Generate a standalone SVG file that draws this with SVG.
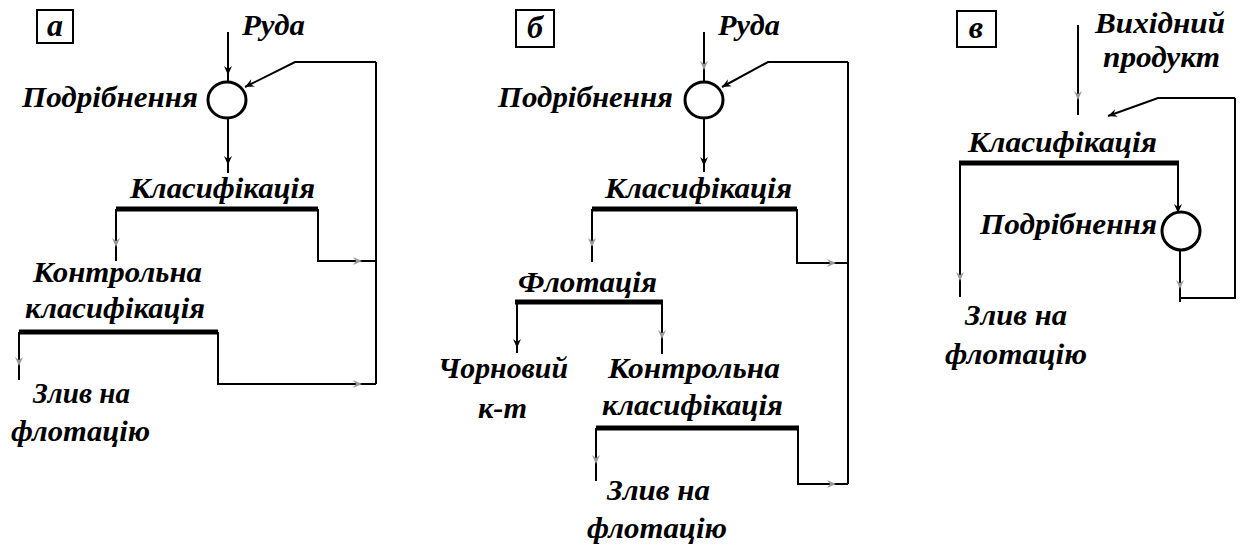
<svg xmlns="http://www.w3.org/2000/svg" width="1242" height="548" viewBox="0 0 1242 548">
  <style>
    .ln { fill: none; stroke: #000; stroke-width: 2; }
    .bar { fill: none; stroke: #000; stroke-width: 5; }
    .mill { fill: #fff; stroke: #000; stroke-width: 3; }
    .box { fill: #fff; stroke: #000; stroke-width: 2; }
    .ah { fill: #000; }
    .ahf { fill: #999; }
  </style>
  <defs>
    <!-- arrowhead pointing along +x, tip at origin -->
    <path id="ah" d="M0,0 L-9,-4 L-6,0 L-9,4 Z"/>
  </defs>
  <rect width="1242" height="548" fill="#fff"/>

  <!-- connectors of all three schemes -->
  <g id="connectors">
    <!-- scheme a -->
    <path class="ln" d="M228,32 V82"/>
    <path class="ln" d="M376,62 H295 L245,87"/>
    <path class="ln" d="M228,118 V173"/>
    <path class="ln" d="M376,62 V384"/>
    <path class="ln" d="M116,209 V261"/>
    <path class="ln" d="M318,209 V261 H376"/>
    <path class="ln" d="M19,332 V380"/>
    <path class="ln" d="M218,332 V384 H376"/>
    <use href="#ah" class="ah" transform="translate(228,75) rotate(90)"/>
    <use href="#ah" class="ah" transform="translate(245,87) rotate(153)"/>
    <use href="#ah" class="ah" transform="translate(228,165) rotate(90)"/>
    <use href="#ah" class="ahf" transform="translate(116,247) rotate(90)"/>
    <use href="#ah" class="ahf" transform="translate(362,261)"/>
    <use href="#ah" class="ahf" transform="translate(19,366) rotate(90)"/>
    <use href="#ah" class="ahf" transform="translate(362,384)"/>
    <!-- scheme б -->
    <path class="ln" d="M704,32 V82"/>
    <path class="ln" d="M848,62 H768 L722,87"/>
    <path class="ln" d="M704,118 V172"/>
    <path class="ln" d="M848,62 V484"/>
    <path class="ln" d="M592,209 V262"/>
    <path class="ln" d="M797,209 V263 H848"/>
    <path class="ln" d="M517,302 V353"/>
    <path class="ln" d="M662,302 V354"/>
    <path class="ln" d="M596,428 V481"/>
    <path class="ln" d="M798,428 V484 H848"/>
    <use href="#ah" class="ahf" transform="translate(704,70) rotate(90)"/>
    <use href="#ah" class="ah" transform="translate(722,87) rotate(151)"/>
    <use href="#ah" class="ah" transform="translate(704,166) rotate(90)"/>
    <use href="#ah" class="ahf" transform="translate(592,247) rotate(90)"/>
    <use href="#ah" class="ahf" transform="translate(836,263)"/>
    <use href="#ah" class="ah" transform="translate(517,348) rotate(90)"/>
    <use href="#ah" class="ahf" transform="translate(662,339) rotate(90)"/>
    <use href="#ah" class="ahf" transform="translate(596,464) rotate(90)"/>
    <use href="#ah" class="ahf" transform="translate(836,484)"/>
    <!-- scheme в -->
    <path class="ln" d="M1078,25 V115"/>
    <path class="ln" d="M1235,98 H1158 L1108,116"/>
    <path class="ln" d="M1235,98 V298 H1180"/>
    <path class="ln" d="M960,163 V297"/>
    <path class="ln" d="M1178,163 V212"/>
    <path class="ln" d="M1180,250 V302"/>
    <use href="#ah" class="ahf" transform="translate(1078,100) rotate(90)"/>
    <use href="#ah" class="ah" transform="translate(1108,116) rotate(160)"/>
    <use href="#ah" class="ah" transform="translate(1178,213) rotate(90)"/>
    <use href="#ah" class="ahf" transform="translate(960,281) rotate(90)"/>
    <use href="#ah" class="ahf" transform="translate(1180,289) rotate(90)"/>
  </g>

  <g font-family="Liberation Serif, serif" font-weight="bold" font-style="italic" font-size="29" fill="#000">
    <!-- ===== Scheme a ===== -->
    <g id="a-label">
      <rect class="box" x="37" y="10" width="36" height="33"/>
      <text x="55" y="36" font-size="32" text-anchor="middle">а</text>
    </g>
    <g id="a-ore">
      <text x="242" y="35" textLength="63" lengthAdjust="spacingAndGlyphs">Руда</text>
    </g>
    <g id="a-grinding">
      <ellipse class="mill" cx="227" cy="100" rx="19" ry="18"/>
      <text x="22" y="107" textLength="176" lengthAdjust="spacingAndGlyphs">Подрібнення</text>
    </g>
    <g id="a-classification">
      <path class="bar" d="M116,209 H318"/>
      <text x="130" y="198" textLength="185" lengthAdjust="spacingAndGlyphs">Класифікація</text>
    </g>
    <g id="a-control">
      <path class="bar" d="M19,332 H218"/>
      <text x="33" y="282" textLength="169" lengthAdjust="spacingAndGlyphs">Контрольна</text>
      <text x="25" y="318" textLength="180" lengthAdjust="spacingAndGlyphs">класифікація</text>
    </g>
    <g id="a-overflow">
      <text x="33" y="403" textLength="97" lengthAdjust="spacingAndGlyphs">Злив на</text>
      <text x="11" y="441" textLength="139" lengthAdjust="spacingAndGlyphs">флотацію</text>
    </g>

    <!-- ===== Scheme б ===== -->
    <g id="b-label">
      <rect class="box" x="516" y="10" width="38" height="37"/>
      <text x="535" y="38" font-size="32" text-anchor="middle">б</text>
    </g>
    <g id="b-ore">
      <text x="718" y="35" textLength="62" lengthAdjust="spacingAndGlyphs">Руда</text>
    </g>
    <g id="b-grinding">
      <ellipse class="mill" cx="704" cy="100" rx="19" ry="18"/>
      <text x="498" y="107" textLength="175" lengthAdjust="spacingAndGlyphs">Подрібнення</text>
    </g>
    <g id="b-classification">
      <path class="bar" d="M592,209 H797"/>
      <text x="605" y="198" textLength="187" lengthAdjust="spacingAndGlyphs">Класифікація</text>
    </g>
    <g id="b-flotation">
      <path class="bar" d="M515,302 H663"/>
      <text x="518" y="292" textLength="139" lengthAdjust="spacingAndGlyphs">Флотація</text>
    </g>
    <g id="b-concentrate">
      <text x="438" y="378" textLength="130" lengthAdjust="spacingAndGlyphs">Чорновий</text>
      <text x="478" y="418" textLength="49" lengthAdjust="spacingAndGlyphs">к-т</text>
    </g>
    <g id="b-control">
      <path class="bar" d="M596,428 H799"/>
      <text x="608" y="378" textLength="172" lengthAdjust="spacingAndGlyphs">Контрольна</text>
      <text x="602" y="415" textLength="181" lengthAdjust="spacingAndGlyphs">класифікація</text>
    </g>
    <g id="b-overflow">
      <text x="607" y="500" textLength="103" lengthAdjust="spacingAndGlyphs">Злив на</text>
      <text x="587" y="538" textLength="140" lengthAdjust="spacingAndGlyphs">флотацію</text>
    </g>

    <!-- ===== Scheme в ===== -->
    <g id="c-label">
      <rect class="box" x="957" y="11" width="39" height="36"/>
      <text x="976" y="38" font-size="32" text-anchor="middle">в</text>
    </g>
    <g id="c-feed">
      <text x="1095" y="33" textLength="130" lengthAdjust="spacingAndGlyphs">Вихідний</text>
      <text x="1103" y="67" textLength="117" lengthAdjust="spacingAndGlyphs">продукт</text>
    </g>
    <g id="c-classification">
      <path class="bar" d="M959,163 H1179"/>
      <text x="968" y="152" textLength="189" lengthAdjust="spacingAndGlyphs">Класифікація</text>
    </g>
    <g id="c-grinding">
      <ellipse class="mill" cx="1181" cy="231" rx="19" ry="19"/>
      <text x="980" y="234" textLength="177" lengthAdjust="spacingAndGlyphs">Подрібнення</text>
    </g>
    <g id="c-overflow">
      <text x="965" y="325" textLength="102" lengthAdjust="spacingAndGlyphs">Злив на</text>
      <text x="945" y="364" textLength="142" lengthAdjust="spacingAndGlyphs">флотацію</text>
    </g>
  </g>
</svg>
